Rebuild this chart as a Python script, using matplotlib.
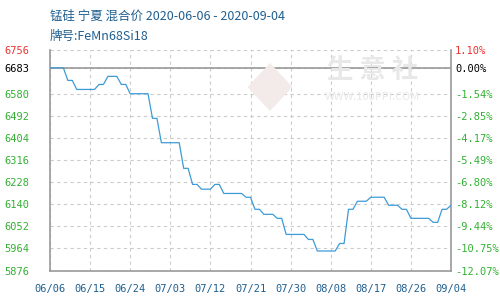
import matplotlib
matplotlib.use("Agg")
import matplotlib.pyplot as plt
from matplotlib.patches import Polygon
import pandas as pd

plt.rcParams['font.family'] = ['Noto Sans CJK SC', 'DejaVu Sans']

title_line1 = "锰硅 宁夏 混合价 2020-06-06 - 2020-09-04"
title_line2 = "牌号:FeMn68Si18"

dates = pd.date_range("2020-06-06", "2020-09-04", freq="D")
prices = [
    6683, 6683, 6683, 6683, 6633, 6633, 6597, 6597, 6597, 6597,
    6597, 6617, 6617, 6649, 6649, 6649, 6617, 6617, 6580, 6580,
    6580, 6580, 6580, 6482, 6482, 6385, 6385, 6385, 6385, 6385,
    6283, 6283, 6219, 6219, 6200, 6200, 6200, 6219, 6219, 6183,
    6183, 6183, 6183, 6183, 6168, 6168, 6120, 6120, 6100, 6100,
    6100, 6084, 6084, 6020, 6020, 6020, 6020, 6020, 6000, 6000,
    5954, 5954, 5954, 5954, 5954, 5984, 5984, 6120, 6120, 6152,
    6152, 6152, 6168, 6168, 6168, 6168, 6136, 6136, 6136, 6120,
    6120, 6084, 6084, 6084, 6084, 6084, 6068, 6068, 6120, 6120,
    6136,
]

y_ticks = [5876, 5964, 6052, 6140, 6228, 6316, 6404, 6492, 6580, 6683, 6756]
y_tick_labels = ["5876", "5964", "6052", "6140", "6228", "6316", "6404", "6492", "6580", "6683", "6756"]
pct_labels = ["-12.07%", "-10.75%", "-9.44%", "-8.12%", "-6.80%", "-5.49%", "-4.17%", "-2.85%", "-1.54%", "0.00%", "1.10%"]
x_tick_dates = ["2020-06-06", "2020-06-15", "2020-06-24", "2020-07-03", "2020-07-12", "2020-07-21",
                "2020-07-30", "2020-08-08", "2020-08-17", "2020-08-26", "2020-09-04"]
x_tick_labels = ["06/06", "06/15", "06/24", "07/03", "07/12", "07/21", "07/30", "08/08", "08/17", "08/26", "09/04"]

base_price = 6683

RED = "#ee3333"
GREEN = "#33b033"
BLACK = "#000000"
BLUE_TXT = "#1f5f8f"
LINE = "#3d9bd8"
GRID = "#cccccc"
SPINE = "#999999"
WM = "#e8e8e8"

fig = plt.figure(figsize=(5, 3), dpi=100)
ax = fig.add_axes([0.1, 0.098, 0.802, 0.737])

# watermark (logo + site name)
fig.patches.append(Polygon([[0.54, 0.79], [0.585, 0.71], [0.54, 0.63], [0.495, 0.71]],
                           closed=True, transform=fig.transFigure, facecolor="#f3eaea",
                           edgecolor="none", zorder=0))
fig.text(0.745, 0.765, "生 意 社", fontsize=19, color=WM, ha="center", va="center",
         fontweight="bold", zorder=0)
fig.text(0.745, 0.675, "WWW.100PPI.COM", fontsize=8, color=WM, ha="center", va="center", zorder=0)

ax.plot(dates, prices, color=LINE, linewidth=0.9, zorder=3)

xt = pd.to_datetime(x_tick_dates)
ax.set_xlim(dates[0], dates[-1])
ax.set_ylim(y_ticks[0], y_ticks[-1])
ax.set_xticks(xt)
ax.set_xticklabels(x_tick_labels, family="DejaVu Sans Mono", fontsize=7.5, color=BLUE_TXT)
ax.set_yticks(y_ticks)
ax.set_yticklabels(y_tick_labels, family="DejaVu Sans Mono", fontsize=7.5)
for lbl, v in zip(ax.get_yticklabels(), y_ticks):
    lbl.set_color(RED if v > base_price else (BLACK if v == base_price else GREEN))
ax.tick_params(axis="x", length=0, pad=9.5)
ax.tick_params(axis="y", length=0, pad=15)

ax.grid(True, color=GRID, linestyle=(0, (3, 3)), linewidth=0.8)
ax.set_axisbelow(True)
ax.axhline(base_price, color=SPINE, linewidth=1.2, zorder=2)

for s in ["left", "right", "bottom"]:
    ax.spines[s].set_color(SPINE)
    ax.spines[s].set_linewidth(1.2)
ax.spines["top"].set_visible(False)
ax.patch.set_alpha(0)

ax2 = ax.twinx()
ax2.set_ylim(ax.get_ylim())
ax2.set_yticks(y_ticks)
ax2.set_yticklabels(pct_labels, family="DejaVu Sans Mono", fontsize=7.5)
for lbl, v in zip(ax2.get_yticklabels(), y_ticks):
    lbl.set_color(RED if v > base_price else (BLACK if v == base_price else GREEN))
ax2.tick_params(axis="y", length=0, pad=3)
for s in ax2.spines.values():
    s.set_visible(False)

fig.text(0.1, 0.945, title_line1, fontsize=9, color=BLUE_TXT, ha="left", va="center")
fig.text(0.1, 0.878, title_line2, fontsize=9, color=BLUE_TXT, ha="left", va="center")

fig.savefig("out.png", dpi=100)
